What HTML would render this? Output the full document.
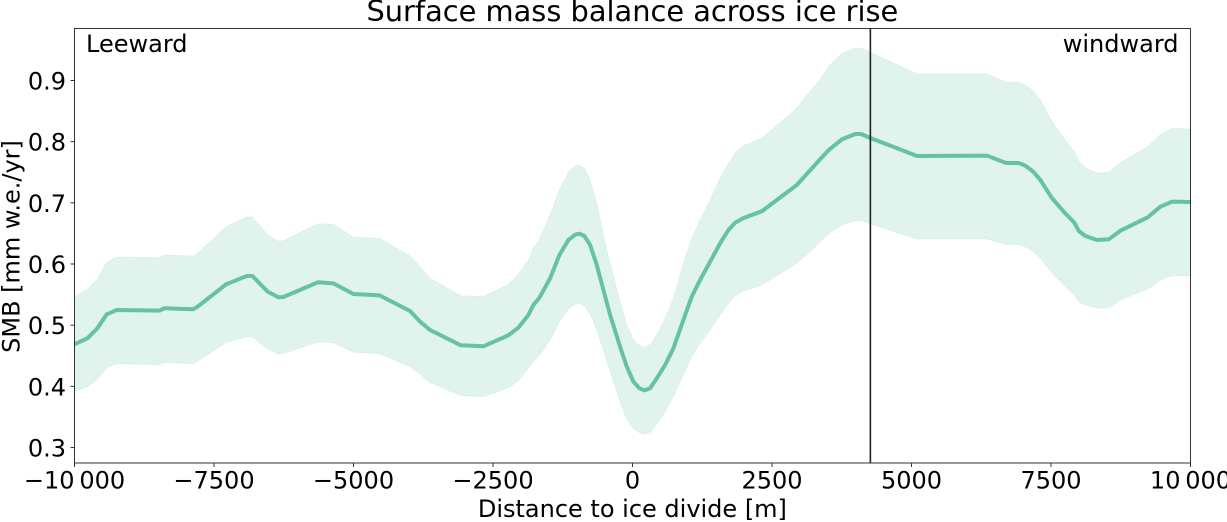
<!DOCTYPE html>
<html>
<head>
<meta charset="utf-8">
<title>Surface mass balance across ice rise</title>
<style>
html,body{margin:0;padding:0;background:#fff;width:1227px;height:522px;overflow:hidden}
svg{display:block}
text{font-family:"DejaVu Sans","Liberation Sans",sans-serif;fill:#000}
</style>
</head>
<body>
<svg id="chart" width="1227" height="522" viewBox="0 0 1227 522" xmlns="http://www.w3.org/2000/svg">
  <text x="632.4" y="21" font-size="28.85" text-anchor="middle">Surface mass balance across ice rise</text>
  <text transform="translate(19.5,246.5) rotate(-90)" font-size="24" text-anchor="middle">SMB [mm w.e./yr]</text>
  <text x="632.4" y="517" font-size="24" text-anchor="middle">Distance to ice divide [m]</text>
  <defs><clipPath id="plot-clip"><rect x="74.5" y="28.5" width="1116" height="434.5"></rect></clipPath></defs>
  <g id="marks" clip-path="url(#plot-clip)"></g>
  <g id="axes"></g>
  <text x="86" y="52" font-size="24">Leeward</text>
  <text x="1178.5" y="52" font-size="24" text-anchor="end">windward</text>
</svg>
<script>
const distance = [-10000,-9769,-9589,-9422,-9242,-8478,-8394,-7880,-7809,-7283,-6912,-6812,-6536,-6346,-6256,-5640,-5360,-5002,-4535,-3986,-3806,-3627,-3077,-2672,-2224,-2045,-1866,-1776,-1668,-1477,-1310,-1149,-1029,-952,-862,-760,-640,-521,-401,-222,-102,16,124,213,315,435,584,733,912,1061,1211,1391,1570,1719,1839,1980,2317,2944,3129,3362,3518,3756,3995,4097,4263,5100,6355,6695,6923,7042,7192,7310,7520,7729,7919,7998,8117,8326,8536,8744,9235,9461,9670,10000];
const smbMean = [0.469,0.4785,0.495,0.5178,0.5248,0.5237,0.5276,0.526,0.5292,0.5668,0.5804,0.5804,0.5547,0.5456,0.5461,0.5701,0.5684,0.551,0.5488,0.5232,0.5057,0.4921,0.4671,0.4655,0.4835,0.4959,0.5166,0.533,0.5449,0.5766,0.6147,0.6393,0.648,0.6496,0.6458,0.6311,0.5984,0.5575,0.5166,0.4648,0.4321,0.4076,0.3968,0.3935,0.3968,0.4132,0.4349,0.4622,0.5085,0.5465,0.5739,0.6038,0.6338,0.6556,0.6675,0.6747,0.6862,0.7292,0.7478,0.7712,0.7864,0.8039,0.8125,0.8125,0.806,0.7766,0.7771,0.7651,0.7651,0.7607,0.75,0.7373,0.7074,0.6855,0.6675,0.654,0.6458,0.6393,0.6404,0.6545,0.6764,0.6937,0.7019,0.7014];
const smbUpper = [0.5477,0.5586,0.575,0.6028,0.6115,0.6103,0.6147,0.6131,0.6159,0.661,0.6768,0.6768,0.6474,0.6371,0.6381,0.6659,0.6649,0.6442,0.642,0.6131,0.5956,0.5766,0.5482,0.5472,0.5668,0.5837,0.6066,0.6257,0.6404,0.6801,0.721,0.75,0.7602,0.7619,0.7565,0.7373,0.6993,0.6474,0.6012,0.5384,0.5003,0.4758,0.4665,0.4638,0.4676,0.4839,0.5112,0.5439,0.6012,0.642,0.672,0.7046,0.7401,0.7646,0.781,0.7929,0.8055,0.8546,0.8763,0.9019,0.9237,0.9445,0.9531,0.9531,0.9461,0.9106,0.9106,0.8971,0.8971,0.8926,0.8817,0.8681,0.8326,0.8055,0.7836,0.7673,0.7574,0.7488,0.75,0.7656,0.7918,0.812,0.8219,0.8207];
const smbLower = [0.3913,0.3994,0.4115,0.4305,0.437,0.4354,0.4387,0.437,0.4403,0.4714,0.4812,0.4812,0.4606,0.4529,0.4534,0.4725,0.4714,0.4557,0.4534,0.4321,0.4202,0.406,0.3847,0.3831,0.3978,0.4093,0.4295,0.4403,0.4507,0.4758,0.5057,0.526,0.5341,0.5352,0.5318,0.5183,0.4921,0.4594,0.4239,0.3749,0.3461,0.3314,0.3242,0.3221,0.3249,0.3384,0.3586,0.3831,0.4186,0.4485,0.4704,0.4921,0.5166,0.5357,0.5477,0.5559,0.5657,0.6012,0.6159,0.6365,0.6502,0.6638,0.6708,0.6708,0.6654,0.6409,0.6409,0.6316,0.6316,0.6283,0.6201,0.6093,0.5848,0.5657,0.5493,0.5384,0.533,0.5276,0.5286,0.5412,0.5592,0.5739,0.5809,0.5804];
const xTickValues = [-10000,-7500,-5000,-2500,0,2500,5000,7500,10000];
const xTickLabels = ["\u221210\u2009000","\u22127500","\u22125000","\u22122500","0","2500","5000","7500","10\u2009000"];
const yTickValues = [0.3,0.4,0.5,0.6,0.7,0.8,0.9];
const yTickLabels = ["0.3","0.4","0.5","0.6","0.7","0.8","0.9"];
const dividePosition = [4263];

const NS = "http://www.w3.org/2000/svg";
const plot = {left:74.5,right:1190.5,top:28.5,bottom:463};
const xDomain = [-10000,10000];
const yDomain = [0.2747,0.985];
function xScale(v){return plot.left+(v-xDomain[0])/(xDomain[1]-xDomain[0])*(plot.right-plot.left);}
function yScale(v){return plot.bottom-(v-yDomain[0])/(yDomain[1]-yDomain[0])*(plot.bottom-plot.top);}
function make(tag,parent){const el=document.createElementNS(NS,tag);parent.appendChild(el);return el;}
function pts(xs,ys){return xs.map(function(x,i){return xScale(x).toFixed(2)+","+yScale(ys[i]).toFixed(2);});}

const marks=document.getElementById("marks");
const axes=document.getElementById("axes");

const band=make("polygon",marks);


band.setAttribute("points",pts(distance,smbUpper).concat(pts(distance,smbLower).reverse()).join(" "));
band.setAttribute("fill","#66c2a5");
band.setAttribute("fill-opacity","0.2");
band.setAttribute("stroke","#66c2a5");
band.setAttribute("stroke-opacity","0.1");

const line=make("polyline",marks);


line.setAttribute("points",pts(distance,smbMean).join(" "));
line.setAttribute("fill","none");
line.setAttribute("stroke","#66c2a5");
line.setAttribute("stroke-width","4");
line.setAttribute("stroke-linejoin","round");

const divide=make("line",marks);


divide.setAttribute("x1",xScale(dividePosition[0]));
divide.setAttribute("x2",xScale(dividePosition[0]));
divide.setAttribute("y1",plot.top);
divide.setAttribute("y2",plot.bottom);
divide.setAttribute("stroke","#222");
divide.setAttribute("stroke-width","1.6");

xTickValues.forEach(function(v,i){
  const x=xScale(v);
  const tick=make("line",axes);
  
  
  tick.setAttribute("x1",x);tick.setAttribute("x2",x);
  tick.setAttribute("y1",plot.bottom);tick.setAttribute("y2",plot.bottom+4);
  tick.setAttribute("stroke","#333");tick.setAttribute("stroke-width","1");
  const label=make("text",axes);
  
  
  label.setAttribute("x",x);label.setAttribute("y",488.5);
  label.setAttribute("font-size","24");label.setAttribute("text-anchor","middle");
  label.textContent=xTickLabels[i];
});
yTickValues.forEach(function(v,i){
  const y=yScale(v);
  const tick=make("line",axes);
  
  
  tick.setAttribute("x1",plot.left-4);tick.setAttribute("x2",plot.left);
  tick.setAttribute("y1",y);tick.setAttribute("y2",y);
  tick.setAttribute("stroke","#333");tick.setAttribute("stroke-width","1");
  const label=make("text",axes);
  
  
  label.setAttribute("x",66);label.setAttribute("y",y+9);
  label.setAttribute("font-size","24");label.setAttribute("text-anchor","end");
  label.textContent=yTickLabels[i];
});
const frame=make("rect",axes);


frame.setAttribute("x",plot.left);frame.setAttribute("y",plot.top);
frame.setAttribute("width",plot.right-plot.left);frame.setAttribute("height",plot.bottom-plot.top);
frame.setAttribute("fill","none");frame.setAttribute("stroke","#333");frame.setAttribute("stroke-width","1");
</script>
</body>
</html>
